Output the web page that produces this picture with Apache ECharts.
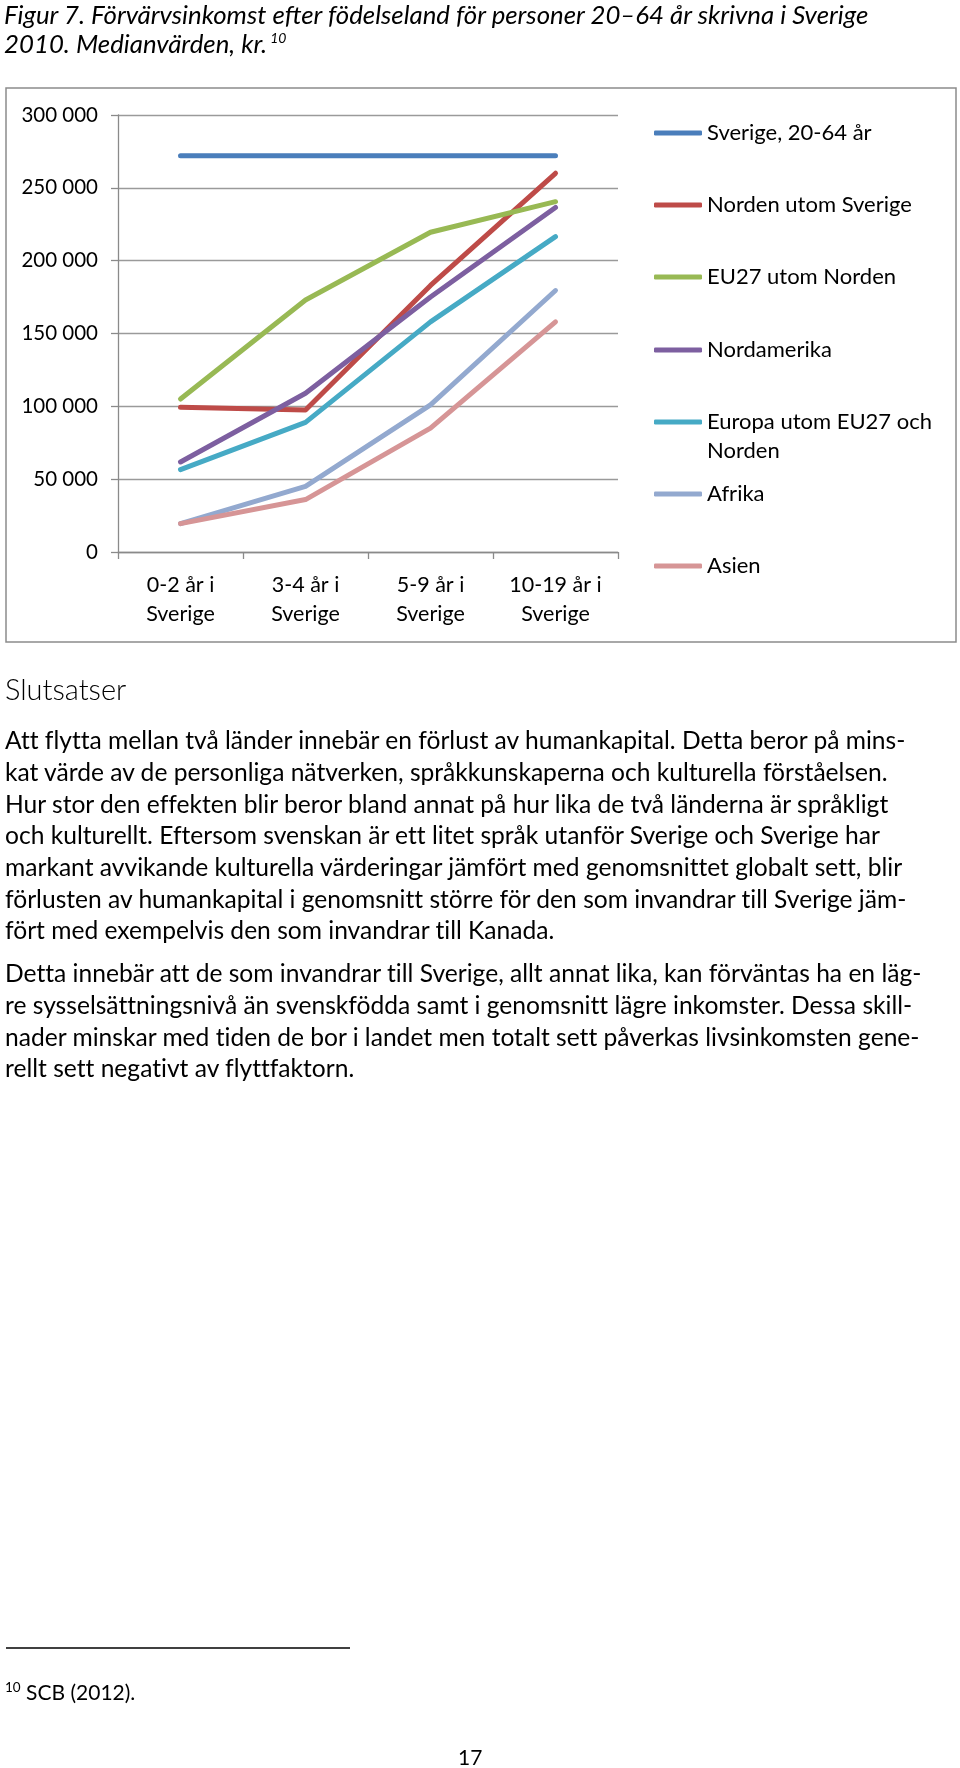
<!DOCTYPE html>
<html>
<head>
<meta charset="utf-8">
<script src="https://cdn.jsdelivr.net/npm/echarts@6/dist/echarts.min.js"></script>
<style>
  html, body { margin: 0; padding: 0; background: #fff; }
  #page { position: relative; width: 960px; height: 1768px; }
  #chart { position: absolute; left: 0; top: 0; width: 960px; height: 1768px; }
  .txt { position: absolute; font-family: Lato, "Open Sans", sans-serif; color: #000;
         white-space: pre; font-variant-ligatures: none; font-feature-settings: "liga" 0, "clig" 0; }
</style>
</head>
<body>
<div id="page">
  <div id="chart"></div>
  <div id="overlay"></div>
</div>
<script>
// ---- data ----
const categories = ['0-2 år i\nSverige', '3-4 år i\nSverige', '5-9 år i\nSverige', '10-19 år i\nSverige'];
const seriesNames = ['Sverige, 20-64 år', 'Norden utom Sverige', 'EU27 utom Norden', 'Nordamerika', 'Europa utom EU27 och Norden', 'Afrika', 'Asien'];
const sverige = [272000, 272000, 272000, 272000];
const nordenUtomSverige = [99300, 97500, 183000, 260000];
const eu27UtomNorden = [105000, 173000, 219500, 240500];
const nordamerika = [61800, 109000, 175000, 236500];
const europaUtomEU27 = [56500, 89000, 158000, 216500];
const afrika = [19500, 45000, 101000, 179500];
const asien = [19500, 36000, 85000, 158000];
const yTicks = [0, 50000, 100000, 150000, 200000, 250000, 300000];

const titleLine1 = 'Figur 7. Förvärvsinkomst efter födelseland för personer 20–64 år skrivna i Sverige';
const titleLine2 = '2010. Medianvärden, kr.';
const footRef = '10';
const heading = 'Slutsatser';
const para1 = [
  'Att flytta mellan två länder innebär en förlust av humankapital. Detta beror på mins-',
  'kat värde av de personliga nätverken, språkkunskaperna och kulturella förståelsen.',
  'Hur stor den effekten blir beror bland annat på hur lika de två länderna är språkligt',
  'och kulturellt. Eftersom svenskan är ett litet språk utanför Sverige och Sverige har',
  'markant avvikande kulturella värderingar jämfört med genomsnittet globalt sett, blir',
  'förlusten av humankapital i genomsnitt större för den som invandrar till Sverige jäm-',
  'fört med exempelvis den som invandrar till Kanada.'
];
const para2 = [
  'Detta innebär att de som invandrar till Sverige, allt annat lika, kan förväntas ha en läg-',
  're sysselsättningsnivå än svenskfödda samt i genomsnitt lägre inkomster. Dessa skill-',
  'nader minskar med tiden de bor i landet men totalt sett påverkas livsinkomsten gene-',
  'rellt sett negativt av flyttfaktorn.'
];
const footnote = 'SCB (2012).';
const pageNumber = '17';

const seriesData = [sverige, nordenUtomSverige, eu27UtomNorden, nordamerika, europaUtomEU27, afrika, asien];
const colors = ['#4A7EBB', '#BE4B48', '#98B954', '#7D5FA0', '#46AAC5', '#93A9CF', '#D69596'];

// ---- layout ----
const FONT = 'Lato, "Open Sans", sans-serif';
const legendCenters = [133, 205, 277, 350, 422, 494, 566];
const LH = 29;

// ---- HTML text (page prose) ----
const overlay = document.getElementById('overlay');
function addText(html, left, top, css) {
  const d = document.createElement('div');
  d.className = 'txt';
  d.style.left = left + 'px';
  d.style.top = top + 'px';
  Object.assign(d.style, css || {});
  d.innerHTML = html;
  overlay.appendChild(d);
}
const esc = s => s.replace(/&/g, '&amp;').replace(/</g, '&lt;');
const BODY_LH = 31.7;
const titleCss = { fontSize: '25.8px', fontStyle: 'italic', lineHeight: '32px', fontVariantLigatures: 'normal', fontFeatureSettings: 'normal' };
addText(esc(titleLine1), 4, 14 - 16, titleCss);
addText(esc(titleLine2) + '<span style="font-size:14px;position:relative;top:-10px;margin-left:3px">' + footRef + '</span>', 4, 43 - 16, titleCss);
addText(esc(heading), 5, 689 - 18, { fontSize: '29px', fontWeight: '300', lineHeight: '36px' });
addText(para1.map(esc).join('\n'), 5, 740 - BODY_LH / 2, { fontSize: '24.6px', lineHeight: BODY_LH + 'px' });
addText(para2.map(esc).join('\n'), 5, 973 - BODY_LH / 2, { fontSize: '24.6px', lineHeight: BODY_LH + 'px' });
addText('<span style="font-size:13.5px;position:relative;top:-8px">' + footRef + '</span> ' + esc(footnote), 5, 1692 - 14,
  { fontSize: '21px', lineHeight: '28px' });
addText(esc(pageNumber), 458, 1757 - 14, { fontSize: '21px', lineHeight: '28px' });

// ---- chart ----
const chart = echarts.init(document.getElementById('chart'), null, { renderer: 'canvas' });
const fmt = v => String(v).replace(/\B(?=(\d{3})+(?!\d))/g, ' ');

const legends = seriesNames.map((name, i) => {
  const multi = name === 'Europa utom EU27 och Norden';
  return {
    data: [name],
    orient: 'vertical',
    left: 654,
    top: multi ? legendCenters[i] - 1.5 * LH : legendCenters[i] - LH / 2,
    padding: 0,
    icon: 'roundRect',
    itemWidth: 48,
    itemHeight: 5,
    itemGap: 0,
    selectedMode: false,
    formatter: n => (n === 'Europa utom EU27 och Norden' ? '\nEuropa utom EU27 och\nNorden' : n),
    textStyle: { fontFamily: FONT, fontSize: 22, color: '#000', lineHeight: LH, padding: [0, 0, 0, 0] }
  };
});

const option = {
  animation: false,
  backgroundColor: 'transparent',
  grid: { left: 118, right: 342, top: 115, bottom: 1768 - 552, containLabel: false },
  legend: legends,
  xAxis: {
    type: 'category',
    data: categories,
    boundaryGap: true,
    axisLine: { lineStyle: { color: '#8a8a8a', width: 1.3 } },
    axisTick: { show: true, length: 7, lineStyle: { color: '#8a8a8a', width: 1.3 } },
    axisLabel: { fontFamily: FONT, fontSize: 21.5, color: '#000', lineHeight: LH, margin: 19, interval: 0 }
  },
  yAxis: {
    type: 'value',
    min: yTicks[0],
    max: yTicks[yTicks.length - 1],
    interval: yTicks[1] - yTicks[0],
    axisLine: { show: true, lineStyle: { color: '#8a8a8a', width: 1.3 } },
    axisTick: { show: true, length: 7, lineStyle: { color: '#8a8a8a', width: 1.3 } },
    splitLine: { show: true, lineStyle: { color: '#9a9a9a', width: 1.3 } },
    axisLabel: { fontFamily: FONT, fontSize: 20.5, color: '#000', margin: 20, formatter: fmt }
  },
  series: seriesNames.map((name, i) => ({
    name: name,
    type: 'line',
    data: seriesData[i],
    symbol: 'none',
    color: colors[i],
    lineStyle: { width: 5, color: colors[i], cap: 'round', join: 'round' },
    emphasis: { disabled: true }
  })),
  graphic: [
    { type: 'rect', silent: true, shape: { x: 6, y: 88, width: 950, height: 554 },
      style: { fill: 'none', stroke: '#8c8c8c', lineWidth: 1.5 } },
    { type: 'line', silent: true, shape: { x1: 6, y1: 1648, x2: 350, y2: 1648 },
      style: { stroke: '#000', lineWidth: 1.5 } }
  ]
};

chart.setOption(option);
</script>
</body>
</html>
